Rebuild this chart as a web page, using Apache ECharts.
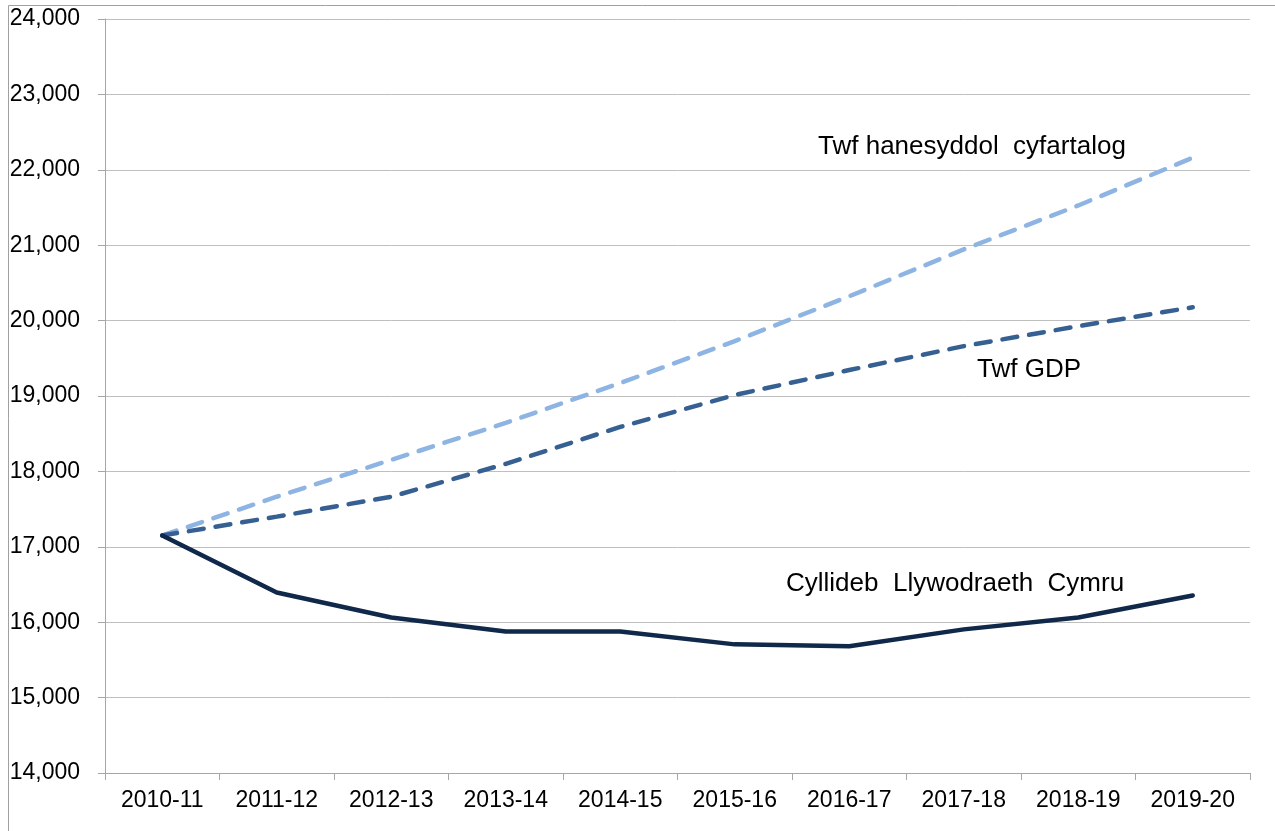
<!DOCTYPE html>
<html>
<head>
<meta charset="utf-8">
<script src="https://cdn.jsdelivr.net/npm/echarts@6/dist/echarts.min.js"></script>
<style>html,body{margin:0;padding:0;background:#fff}#c{width:1275px;height:831px}</style>
</head>
<body>
<div id="c"></div>
<script>
const categories = ['2010-11','2011-12','2012-13','2013-14','2014-15','2015-16','2016-17','2017-18','2018-19','2019-20'];
const budget = [17150, 16394, 16063, 15878, 15878, 15706, 15680, 15905, 16063, 16354];
const gdpGrowth = [17150, 17400, 17664, 18100, 18590, 19013, 19344, 19661, 19926, 20177];
const historicGrowth = [17150, 17664, 18153, 18643, 19172, 19728, 20323, 20944, 21527, 22161];
const yTicks = { min: 14000, max: 24000, interval: 1000 };

const chart = echarts.init(document.getElementById('c'), null, {renderer: 'canvas'});
const font = 'Liberation Sans, Arial, sans-serif';
chart.setOption({
  animation: false,
  backgroundColor: '#fff',
  grid: { left: 105, right: 25, top: 19, bottom: 58, containLabel: false },
  xAxis: {
    type: 'category',
    data: categories,
    boundaryGap: true,
    axisLine: { lineStyle: { color: '#a6a6a6', width: 1 } },
    axisTick: { show: true, alignWithLabel: false, length: 7, lineStyle: { color: '#a6a6a6' } },
    axisLabel: { color: '#000', fontFamily: font, fontSize: 23, margin: 16 }
  },
  yAxis: {
    type: 'value',
    min: yTicks.min, max: yTicks.max, interval: yTicks.interval,
    axisLine: { show: true, lineStyle: { color: '#a6a6a6', width: 1 } },
    axisTick: { show: true, length: 7, lineStyle: { color: '#a6a6a6' } },
    splitLine: { show: true, lineStyle: { color: '#bfbfbf', width: 1 } },
    axisLabel: {
      color: '#000', fontFamily: font, fontSize: 23, margin: 25,
      formatter: v => v.toLocaleString('en-US')
    }
  },
  graphic: [
    { type: 'rect', shape: { x: 8.5, y: 5.5, width: 1275, height: 840 }, style: { fill: 'none', stroke: '#a0a0a0', lineWidth: 1 }, silent: true },
    { type: 'text', left: 818, top: 134, style: { text: 'Twf hanesyddol  cyfartalog', fill: '#000', font: '26px ' + font } },
    { type: 'text', left: 977, top: 357, style: { text: 'Twf GDP', fill: '#000', font: '26px ' + font } },
    { type: 'text', left: 786, top: 571, style: { text: 'Cyllideb  Llywodraeth  Cymru', fill: '#000', font: '26px ' + font } }
  ],
  series: [
    {
      name: 'Twf hanesyddol cyfartalog', type: 'line', data: historicGrowth,
      symbol: 'none', smooth: false,
      lineStyle: { color: '#8db4e2', width: 4.5, type: [15, 12], cap: 'round' }
    },
    {
      name: 'Twf GDP', type: 'line', data: gdpGrowth,
      symbol: 'none', smooth: false,
      lineStyle: { color: '#376092', width: 4.5, type: [15, 12], cap: 'round' }
    },
    {
      name: 'Cyllideb Llywodraeth Cymru', type: 'line', data: budget,
      symbol: 'none', smooth: false,
      lineStyle: { color: '#10284a', width: 4.5, cap: 'round', join: 'round' }
    }
  ]
});
</script>
</body>
</html>
